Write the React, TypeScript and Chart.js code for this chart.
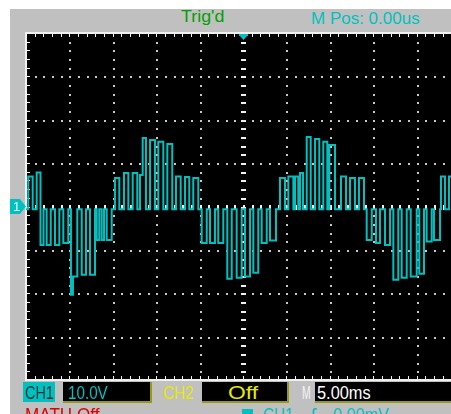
import React, { useEffect, useRef } from "react";
import { Chart, registerables } from "chart.js";

Chart.register(...registerables);

// time axis: 5 ms/div, 10 divisions, trigger at centre (ms)
const timeMin = -25;
const timeMax = 25;
// vertical: 10 V/div, 8 divisions (V)
const voltMin = -40;
const voltMax = 40;
const baselineVolt = -0.62;

// pulses of the CH1 trace (ms, ms, V)
const pulseStartMs = [
  -24.74, -23.77, -23.33, -22.62, -21.66, -20.7, -19.82, -19.59, -18.58, -17.63,
  -16.86, -16.28, -15.7, -14.75, -13.71, -12.71, -11.87, -11.56, -10.71, -9.76,
  -8.72, -7.72, -6.68, -5.73, -4.76, -3.8, -2.85, -1.81, -0.73, 0.23,
  1.19, 2.15, 3.11, 4.26, 5.22, 5.99, 6.57, 7.34, 8.3, 9.25,
  9.94, 11.29, 12.33, 13.36, 14.25, 15.32, 16.36, 17.32, 18.28, 19.32,
  20.31, 21.16, 22.0, 22.81, 23.73,
];
const pulseEndMs = [
  -24.23, -23.33, -22.98, -22.15, -21.16, -20.13, -19.59, -19.09, -18.09, -17.05,
  -16.56, -16.01, -15.13, -14.25, -13.21, -12.18, -11.56, -11.18, -10.14, -9.18,
  -8.15, -7.18, -6.19, -5.15, -4.18, -3.23, -2.27, -1.3, -0.15, 0.81,
  1.76, 2.73, 3.8, 4.84, 5.8, 6.37, 6.91, 7.8, 8.79, 9.71,
  10.6, 11.87, 12.9, 13.94, 14.83, 15.78, 16.94, 17.89, 18.86, 20.01,
  20.85, 21.74, 22.7, 23.27, 24.31,
];
const pulseVolt = [
  6.89, 7.81, -8.85, -8.85, -8.85, -8.39, -20.37, -16.15, -15.76, -15.76,
  -7.7, -7.7, -7.7, 6.59, 7.74, 7.74, 7.28, 15.81, 15.34, 14.95,
  14.42, 6.89, 6.82, 6.59, -8.39, -8.39, -8.39, -16.68, -16.45, -16.15,
  -15.3, -8.39, -7.86, 6.59, 6.89, 6.89, 7.74, 16.04, 15.58, 14.95,
  14.19, 6.89, 6.59, 6.59, -7.7, -8.39, -8.85, -16.91, -16.45, -16.15,
  -15.53, -8.09, -7.7, 6.89, 6.89,
];

const CYAN = "#00c0c0";

function buildTrace() {
  const pts: { x: number; y: number }[] = [{ x: timeMin, y: baselineVolt }];
  for (let i = 0; i < pulseStartMs.length; i++) {
    pts.push({ x: pulseStartMs[i], y: pulseVolt[i] });
    const next = pulseStartMs[i + 1];
    if (next === undefined || next > pulseEndMs[i]) {
      pts.push({ x: pulseEndMs[i], y: baselineVolt });
    }
  }
  pts.push({ x: timeMax, y: baselineVolt });
  return pts;
}

const scopePlugin = {
  id: "scopeGrid",
  beforeDatasetsDraw(chart: any) {
    const { ctx, chartArea: a, scales } = chart;
    const xs = scales.x;
    const ys = scales.y;
    const W = a.right - a.left;
    const H = a.bottom - a.top;
    ctx.save();
    ctx.fillStyle = "#000";
    ctx.fillRect(a.left - 1, a.top - 1, W + 2, H + 2);

    // dotted grid
    ctx.fillStyle = "#c8c8c8";
    for (let t = timeMin + 5; t < timeMax; t += 5) {
      if (t === 0) continue;
      const x = Math.round(xs.getPixelForValue(t));
      for (let v = voltMin + 2; v < voltMax; v += 2) {
        const y = Math.round(ys.getPixelForValue(v));
        ctx.fillRect(x, y, 2, 2);
      }
    }
    for (let v = voltMin + 10; v < voltMax; v += 10) {
      if (v === 0) continue;
      const y = Math.round(ys.getPixelForValue(v));
      for (let t = timeMin + 1; t < timeMax; t += 1) {
        const x = Math.round(xs.getPixelForValue(t));
        ctx.fillRect(x, y, 2, 2);
      }
    }

    // centre axes with minor ticks
    ctx.fillStyle = "#f0f0f0";
    const cx = Math.round(xs.getPixelForValue(0));
    const cy = Math.round(ys.getPixelForValue(0));
    for (let v = voltMin + 2; v < voltMax; v += 2) {
      const y = Math.round(ys.getPixelForValue(v));
      ctx.fillRect(cx - 2, y, 5, 2);
    }
    for (let t = timeMin + 1; t < timeMax; t += 1) {
      const x = Math.round(xs.getPixelForValue(t));
      ctx.fillRect(x, cy - 2, 2, 5);
    }

    // frame with ticks
    ctx.fillStyle = "#f0f0f0";
    ctx.fillRect(a.left - 1, a.top - 1, 2, H + 1);
    ctx.fillRect(a.left - 1, a.top - 1, W + 2, 2);
    ctx.fillRect(a.left - 1, a.bottom - 1, W + 2, 2);
    for (let t = timeMin + 1; t < timeMax; t += 1) {
      const x = Math.round(xs.getPixelForValue(t));
      ctx.fillRect(x, a.top + 1, 1, 3);
      ctx.fillRect(x, a.bottom - 4, 1, 3);
    }
    for (let v = voltMin + 2; v < voltMax; v += 2) {
      const y = Math.round(ys.getPixelForValue(v));
      ctx.fillRect(a.left + 1, y, 3, 1);
    }
    ctx.restore();
  },
  afterDatasetsDraw(chart: any) {
    const { ctx, chartArea: a, scales } = chart;
    const cx = Math.round(scales.x.getPixelForValue(0));
    ctx.save();
    ctx.fillStyle = CYAN;
    ctx.fillRect(cx - 4, a.top + 1, 9, 2);
    ctx.beginPath();
    ctx.moveTo(cx - 4, a.top + 2);
    ctx.lineTo(cx + 5, a.top + 2);
    ctx.lineTo(cx + 0.5, a.top + 7);
    ctx.closePath();
    ctx.fill();
    ctx.restore();
  },
};

function Label(props: {
  left: number;
  top: number;
  text: string;
  color: string;
  size: number;
  sx?: number;
  center?: boolean;
}) {
  const { left, top, text, color, size, sx = 1, center } = props;
  return (
    <div
      style={{
        position: "absolute",
        left,
        top,
        color,
        fontSize: size,
        lineHeight: `${size}px`,
        whiteSpace: "pre",
        transform: `scaleX(${sx})`,
        transformOrigin: center ? "center" : "left",
      }}
    >
      {text}
    </div>
  );
}

export default function App() {
  const ref = useRef<HTMLCanvasElement>(null);

  useEffect(() => {
    const chart = new Chart(ref.current as HTMLCanvasElement, {
      type: "line",
      data: {
        datasets: [
          {
            data: buildTrace(),
            borderColor: CYAN,
            borderWidth: 2,
            pointRadius: 0,
            stepped: true,
            tension: 0,
            borderJoinStyle: "miter",
          } as any,
        ],
      },
      options: {
        animation: false,
        responsive: false,
        devicePixelRatio: 1,
        events: [],
        layout: { padding: { left: 1, top: 1, right: 1, bottom: 2 } },
        plugins: { legend: { display: false }, tooltip: { enabled: false } },
        scales: {
          x: { type: "linear", min: timeMin, max: timeMax, display: false },
          y: { type: "linear", min: voltMin, max: voltMax, display: false },
        },
      },
      plugins: [scopePlugin],
    });
    return () => chart.destroy();
  }, []);

  const boxBase: React.CSSProperties = {
    position: "absolute",
    top: 373,
    height: 19,
    background: "#000",
    borderRight: "2px solid #9a9a10",
    borderBottom: "2px solid #9a9a10",
  };

  return (
    <div
      style={{
        position: "fixed",
        left: 10,
        top: 9,
        width: 441,
        height: 405,
        background: "#c0c0c0",
        overflow: "hidden",
        fontFamily: '"Liberation Sans", Arial, sans-serif',
      }}
    >
      <canvas
        ref={ref}
        width={436}
        height={350}
        style={{ position: "absolute", left: 15, top: 23, width: 436, height: 350 }}
      />
      {/* channel 1 ground marker */}
      <div
        style={{
          position: "absolute",
          left: 0,
          top: 190,
          width: 16,
          height: 15,
          background: CYAN,
          clipPath: "polygon(0 0, 62% 0, 100% 50%, 62% 100%, 0 100%)",
        }}
      />
      <Label left={3} top={191} text="1" color="#e8ffff" size={13} />

      <Label left={171} top={-1} text="Trig'd" color="#00a000" size={17} sx={1.05} />
      <Label left={301} top={1} text="M Pos: 0.00us" color={CYAN} size={17} />

      <div style={{ position: "absolute", left: 13, top: 373, width: 32, height: 20, background: CYAN }} />
      <Label left={15} top={374} text="CH1" color="#003838" size={19} sx={0.76} />

      <div style={{ ...boxBase, left: 53, width: 87 }} />
      <Label left={58} top={374} text="10.0V" color={CYAN} size={19} sx={0.8} />

      <Label left={153} top={374} text="CH2" color="#e8e800" size={19} sx={0.8} />
      <div style={{ ...boxBase, left: 192, width: 85 }} />
      <Label left={218} top={374} text="Off" color="#e8e800" size={19} sx={1.2} />

      <Label left={292} top={374} text="M" color="#f4f4f4" size={19} sx={0.55} />
      <div style={{ ...boxBase, left: 305, width: 140 }} />
      <Label left={307} top={374} text="5.00ms" color="#ffffff" size={19} sx={0.86} />

      <Label left={15} top={396} text="MATH Off" color="#e00000" size={19} sx={0.9} />
      <div style={{ position: "absolute", left: 232, top: 400, width: 11, height: 10, background: CYAN }} />
      <Label left={253} top={396} text="CH1" color={CYAN} size={19} sx={0.8} />
      <Label left={301} top={396} text="ʃ" color={CYAN} size={19} />
      <Label left={323} top={396} text="0.00mV" color={CYAN} size={19} sx={0.85} />
    </div>
  );
}
